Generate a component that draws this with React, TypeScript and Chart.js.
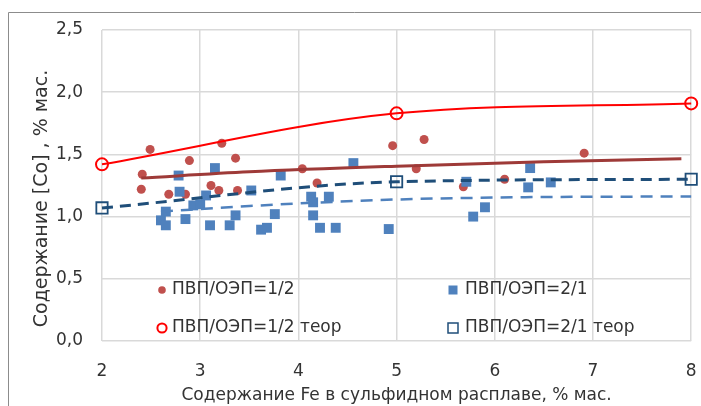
import React, { useEffect, useRef } from "react";
import { Chart, registerables } from "chart.js";

Chart.register(...registerables);

// ---------- data ----------
const X_MIN = 2;
const X_MAX = 8;
const X_STEP = 1;
const Y_MIN = 0;
const Y_MAX = 2.5;
const Y_STEP = 0.5;

const RED_X = [2.41, 2.40, 2.49, 2.68, 2.85, 2.89, 3.11, 3.19, 3.22, 3.36, 3.38, 4.04, 4.19, 4.96, 5.20, 5.28, 5.68, 6.10, 6.91];
const RED_Y = [1.34, 1.22, 1.54, 1.18, 1.18, 1.45, 1.25, 1.21, 1.59, 1.47, 1.21, 1.385, 1.27, 1.57, 1.385, 1.62, 1.24, 1.30, 1.51];

const BLUE_X = [2.60, 2.65, 2.65, 2.78, 2.79, 2.85, 2.93, 3.00, 3.06, 3.10, 3.15, 3.30, 3.36, 3.52, 3.62, 3.68, 3.76, 3.82, 4.13, 4.15, 4.15, 4.22, 4.31, 4.38, 4.56, 4.92, 5.71, 5.78, 5.90, 6.34, 6.36, 6.57];
const BLUE_Y = [0.97, 0.93, 1.04, 1.33, 1.20, 0.98, 1.09, 1.10, 1.17, 0.93, 1.39, 0.93, 1.01, 1.21, 0.895, 0.91, 1.02, 1.33, 1.16, 1.115, 1.01, 0.91, 1.16, 0.91, 1.43, 0.90, 1.28, 1.00, 1.075, 1.235, 1.39, 1.275];

const RED_THEOR_X = [2, 5, 8];
const RED_THEOR_Y = [1.42, 1.83, 1.91];

const BLUE_THEOR_X = [2, 5, 8];
const BLUE_THEOR_Y = [1.07, 1.28, 1.30];

const RED_TREND_X = [2.4, 3.5, 5.0, 6.5, 7.9];
const RED_TREND_Y = [1.31, 1.36, 1.405, 1.44, 1.465];

const BLUE_TREND_X = [2.6, 3.5, 4.9, 6.2, 8.0];
const BLUE_TREND_Y = [1.04, 1.085, 1.135, 1.155, 1.162];

const LEGEND_LABELS = ["ПВП/ОЭП=1/2", "ПВП/ОЭП=2/1", "ПВП/ОЭП=1/2 теор", "ПВП/ОЭП=2/1 теор"];
const X_TITLE = "Содержание Fe в сульфидном расплаве, % мас.";
const Y_TITLE = "Содержание [Co] , % мас.";

// ---------- styles ----------
const FONT_FAMILY = '"DejaVu Sans", Verdana, sans-serif';
const FONT_SIZE = 17;
const Y_TITLE_SIZE = 19;
const TEXT_COLOR = "#333333";
const GRID_COLOR = "#d9d9d9";
const RED_DOT = "#C0504D";
const BLUE_SQ = "#4F81BD";
const RED_TREND = "#9E3A38";
const BLUE_TREND = "#4F81BD";
const RED_THEOR = "#FF0000";
const BLUE_THEOR = "#1F4E79";

const zip = (xs: number[], ys: number[]) => xs.map((x, i) => ({ x, y: ys[i] }));

const framePlugin = {
  id: "frame",
  beforeDraw(chart: any) {
    const ctx = chart.ctx;
    ctx.save();
    ctx.strokeStyle = "#8c8c8c";
    ctx.lineWidth = 1;
    ctx.beginPath();
    ctx.moveTo(8.5, chart.height);
    ctx.lineTo(8.5, 12.5);
    ctx.lineTo(chart.width, 12.5);
    ctx.stroke();
    ctx.restore();
  },
};

const yTitlePlugin = {
  id: "yTitle",
  afterDraw(chart: any) {
    const ctx = chart.ctx;
    const area = chart.chartArea;
    ctx.save();
    ctx.font = `${Y_TITLE_SIZE}px ${FONT_FAMILY}`;
    ctx.fillStyle = TEXT_COLOR;
    ctx.textAlign = "center";
    ctx.textBaseline = "middle";
    ctx.translate(area.left - 60, (area.top + area.bottom) / 2 + 13);
    ctx.rotate(-Math.PI / 2);
    ctx.fillText(Y_TITLE, 0, 0);
    ctx.restore();
  },
};

const legendPlugin = {
  id: "customLegend",
  afterDraw(chart: any) {
    const ctx = chart.ctx;
    const area = chart.chartArea;
    const col1 = area.left + 60;
    const col2 = area.left + 351;
    const row1 = area.bottom - 51;
    const row2 = area.bottom - 13;
    ctx.save();
    ctx.font = `${FONT_SIZE}px ${FONT_FAMILY}`;
    ctx.textAlign = "left";
    ctx.textBaseline = "middle";

    ctx.fillStyle = RED_DOT;
    ctx.beginPath();
    ctx.arc(col1, row1, 3.8, 0, Math.PI * 2);
    ctx.fill();

    ctx.fillStyle = BLUE_SQ;
    ctx.fillRect(col2 - 4.5, row1 - 4.5, 9, 9);

    ctx.strokeStyle = RED_THEOR;
    ctx.lineWidth = 2;
    ctx.beginPath();
    ctx.arc(col1, row2, 4.6, 0, Math.PI * 2);
    ctx.stroke();

    ctx.strokeStyle = BLUE_THEOR;
    ctx.lineWidth = 1.5;
    ctx.strokeRect(col2 - 5, row2 - 5, 10, 10);

    ctx.fillStyle = TEXT_COLOR;
    ctx.fillText(LEGEND_LABELS[0], col1 + 10, row1);
    ctx.fillText(LEGEND_LABELS[1], col2 + 12, row1);
    ctx.fillText(LEGEND_LABELS[2], col1 + 10, row2);
    ctx.fillText(LEGEND_LABELS[3], col2 + 12, row2);
    ctx.restore();
  },
};

export default function App() {
  const canvasRef = useRef<HTMLCanvasElement | null>(null);

  useEffect(() => {
    if (!canvasRef.current) return;
    const font = { family: FONT_FAMILY, size: FONT_SIZE };
    const chart = new Chart(canvasRef.current, {
      type: "scatter",
      data: {
        datasets: [
          {
            label: LEGEND_LABELS[0],
            data: zip(RED_X, RED_Y),
            pointStyle: "circle",
            pointRadius: 4.5,
            pointBackgroundColor: RED_DOT,
            pointBorderWidth: 0,
            showLine: false,
            order: 6,
            clip: false,
          },
          {
            label: LEGEND_LABELS[1],
            data: zip(BLUE_X, BLUE_Y),
            pointStyle: "rect",
            pointRadius: 7,
            pointBackgroundColor: BLUE_SQ,
            pointBorderWidth: 0,
            showLine: false,
            order: 5,
            clip: false,
          },
          {
            label: "trend 1/2",
            data: zip(RED_TREND_X, RED_TREND_Y),
            showLine: true,
            pointRadius: 0,
            borderColor: RED_TREND,
            borderWidth: 3,
            cubicInterpolationMode: "monotone",
            order: 4,
            clip: false,
          },
          {
            label: "trend 2/1",
            data: zip(BLUE_TREND_X, BLUE_TREND_Y),
            showLine: true,
            pointRadius: 0,
            borderColor: BLUE_TREND,
            borderWidth: 2.5,
            borderDash: [12, 8],
            cubicInterpolationMode: "monotone",
            order: 3,
            clip: false,
          },
          {
            label: LEGEND_LABELS[2],
            data: zip(RED_THEOR_X, RED_THEOR_Y),
            showLine: true,
            borderColor: RED_THEOR,
            borderWidth: 2,
            cubicInterpolationMode: "monotone",
            pointStyle: "circle",
            pointRadius: 6,
            pointBorderWidth: 2,
            pointBorderColor: RED_THEOR,
            pointBackgroundColor: "rgba(255,255,255,0)",
            order: 2,
            clip: false,
          },
          {
            label: LEGEND_LABELS[3],
            data: zip(BLUE_THEOR_X, BLUE_THEOR_Y),
            showLine: true,
            borderColor: BLUE_THEOR,
            borderWidth: 3,
            borderDash: [11, 7],
            cubicInterpolationMode: "monotone",
            pointStyle: "rect",
            pointRadius: 8,
            pointBorderWidth: 1.8,
            pointBorderColor: BLUE_THEOR,
            pointBackgroundColor: "rgba(255,255,255,0)",
            order: 1,
            clip: false,
          },
        ],
      },
      options: {
        responsive: false,
        animation: false,
        devicePixelRatio: 1,
        layout: { padding: { left: 0, top: 30, right: 9, bottom: 0 } },
        plugins: {
          legend: { display: false },
          tooltip: { enabled: false },
          title: { display: false },
        },
        scales: {
          x: {
            type: "linear",
            min: X_MIN,
            max: X_MAX,
            border: { display: false },
            grid: { color: GRID_COLOR, lineWidth: 1.5, drawTicks: false },
            ticks: {
              stepSize: X_STEP,
              padding: 20,
              color: TEXT_COLOR,
              font,
              callback: (v: any) => String(v),
            },
            title: {
              display: true,
              text: X_TITLE,
              color: TEXT_COLOR,
              font,
              padding: { top: 0, bottom: 0 },
            },
            afterFit: (s: any) => {
              s.height = 65;
              s.paddingLeft = 0;
              s.paddingRight = 0;
            },
          },
          y: {
            type: "linear",
            min: Y_MIN,
            max: Y_MAX,
            border: { display: false },
            grid: { color: GRID_COLOR, lineWidth: 1.5, drawTicks: false },
            ticks: {
              stepSize: Y_STEP,
              padding: 19,
              color: TEXT_COLOR,
              font,
              callback: (v: any) => Number(v).toFixed(1).replace(".", ","),
            },
            afterFit: (s: any) => {
              s.width = 102;
              s.paddingTop = 0;
              s.paddingBottom = 0;
            },
          },
        },
      },
      plugins: [framePlugin, yTitlePlugin, legendPlugin],
    });
    return () => chart.destroy();
  }, []);

  return (
    <div style={{ position: "absolute", left: 0, top: 0, width: 701, height: 406, background: "#fff" }}>
      <canvas ref={canvasRef} width={701} height={406} style={{ display: "block" }} />
    </div>
  );
}
